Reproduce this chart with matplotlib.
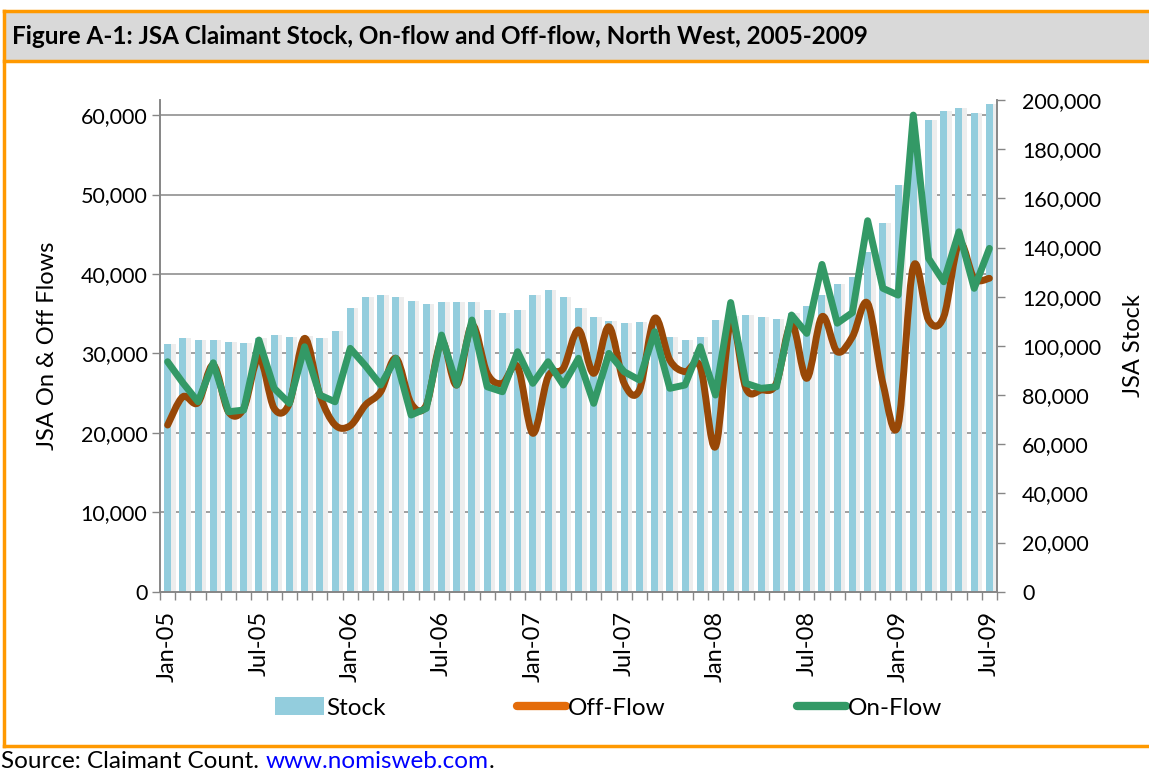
import numpy as np
import pandas as pd
import matplotlib
matplotlib.use("Agg")
import matplotlib.pyplot as plt
from matplotlib.path import Path
from matplotlib.patches import PathPatch, Patch, Rectangle
from matplotlib.lines import Line2D
from matplotlib.transforms import blended_transform_factory
from matplotlib.ticker import StrMethodFormatter

plt.rcParams['font.family'] = ['Lato', 'DejaVu Sans']

months = pd.date_range('2005-01-01', periods=55, freq='MS')
tick_labels = ['Jan-05', 'Jul-05', 'Jan-06', 'Jul-06', 'Jan-07',
               'Jul-07', 'Jan-08', 'Jul-08', 'Jan-09', 'Jul-09']

stock = [100800, 103100, 102400, 102400, 101600, 101000, 103000, 104400, 103700, 104000,
         103100, 106000, 115400, 119800, 120600, 119800, 118400, 116900, 117900, 117900,
         117900, 114700, 113400, 114700, 120600, 122700, 119800, 115400, 111800, 110200,
         109100, 109800, 108500, 103700, 102400, 103700, 110500, 112000, 112500, 111900,
         111100, 113500, 116200, 120500, 125000, 128100, 138000, 150000, 165400, 180000,
         191800, 195400, 196800, 194700, 198400]

off_flow = [20980, 24540, 23800, 28530, 22650, 23080, 29500, 23080, 23710, 31890,
            24760, 21000, 20900, 23500, 25170, 29380, 23710, 23500, 31500, 26020,
            33570, 27490, 26230, 28320, 19940, 27060, 28120, 32940, 27490, 33350,
            26230, 25390, 34410, 29160, 27690, 28320, 18250, 34000, 25600, 25390,
            26230, 33780, 26860, 34620, 30210, 32100, 36300, 26230, 20980, 40910,
            34200, 34620, 43850, 39450, 39450]

on_flow = [28950, 26300, 23910, 28820, 22650, 22870, 31680, 25600, 23710, 30840,
           24760, 23910, 30630, 28450, 26020, 29380, 22240, 23080, 32310, 26020,
           34200, 25800, 25170, 30210, 26230, 28950, 26020, 29380, 23710, 30000,
           27690, 26650, 32730, 25600, 26020, 30840, 24760, 36400, 26230, 25600,
           25800, 34830, 32520, 41200, 33800, 35140, 46700, 38200, 37340, 60000,
           41960, 39020, 45310, 38190, 43220]

BAR_COLOR = '#93CDDD'
OFF_COLOR = '#984807'
OFF_LEGEND = '#E46C0A'
ON_COLOR = '#339966'
GRID = '#868686'
ORANGE = '#FF9900'


def smooth_path(xs, ys):
    # Excel-style smoothed line as cubic bezier segments through the data points
    pts = np.column_stack([xs, ys]).astype(float)
    padded = np.vstack([pts[:1], pts, pts[-1:]])
    verts = [pts[0]]
    codes = [Path.MOVETO]
    for i in range(len(pts) - 1):
        p0, p1, p2, p3 = padded[i], padded[i + 1], padded[i + 2], padded[i + 3]
        verts += [p1 + (p2 - p0) / 6, p2 - (p3 - p1) / 6, p2]
        codes += [Path.CURVE4] * 3
    return Path(verts, codes)


fig = plt.figure(figsize=(11.49, 7.76), dpi=100)
ax = fig.add_axes([160 / 1149, 1 - 591.7 / 776, 837 / 1149, 491.7 / 776])
ax2 = ax.twinx()
ax.set_zorder(ax2.get_zorder() + 1)
ax.patch.set_visible(False)

x = np.arange(len(months))

# stock bars with a soft shadow
ax2.bar(x + 0.22, stock, width=0.62, color='#EDEDED', zorder=1)
ax2.bar(x, stock, width=0.46, color=BAR_COLOR, zorder=2)
ax2.set_ylim(0, 200000)
ax2.set_yticks(np.arange(0, 200001, 20000))
ax2.yaxis.set_major_formatter(StrMethodFormatter('{x:,.0f}'))
ax2.set_ylabel('JSA Stock', fontsize=17, labelpad=16)

ax.set_ylim(0, 61900)
ax.set_yticks(np.arange(0, 60001, 10000))
ax.yaxis.set_major_formatter(StrMethodFormatter('{x:,.0f}'))
ax.set_ylabel('JSA On & Off Flows', fontsize=17, labelpad=16)

# gridlines behind the bars, placed on the left-axis scale
grid_tr = blended_transform_factory(ax2.transAxes, ax.transData)
for v in np.arange(10000, 60001, 10000):
    ax2.plot([0, 1], [v, v], transform=grid_tr, color=GRID, lw=1.1, zorder=0)

ax.add_patch(PathPatch(smooth_path(x, off_flow), fill=False, edgecolor=OFF_COLOR,
                       lw=5, capstyle='round', joinstyle='round', zorder=3))
ax.plot(x, on_flow, color=ON_COLOR, lw=5, solid_joinstyle='round',
        solid_capstyle='round', zorder=4)

ax.set_xlim(-0.5, 54.5)
ax.set_xticks(x[::6])
ax.set_xticklabels(tick_labels, rotation=90, fontsize=17)
ax.set_xticks(np.arange(-0.5, 55, 1), minor=True)
ax.tick_params(axis='x', which='major', length=0, pad=14)
ax.tick_params(axis='x', which='minor', length=6, color=GRID, width=1)
ax.tick_params(axis='y', labelsize=15.5, length=6, color=GRID, width=1, pad=3)
ax2.tick_params(axis='y', labelsize=15.5, length=6, color=GRID, width=1, pad=12)

for a in (ax, ax2):
    a.spines['top'].set_visible(False)
    for s in ('left', 'right', 'bottom'):
        a.spines[s].set_color(GRID)
        a.spines[s].set_linewidth(1.2)

handles = [Patch(facecolor=BAR_COLOR, edgecolor='none'),
           Line2D([], [], color=OFF_LEGEND, lw=6, solid_capstyle='round'),
           Line2D([], [], color=ON_COLOR, lw=6, solid_capstyle='round')]
fig.legend(handles, ['Stock', 'Off-Flow', 'On-Flow'], ncol=3, loc='center',
           bbox_to_anchor=(0.53, 1 - 708 / 776), frameon=False, fontsize=17.5,
           handlelength=2.0, handletextpad=0.1, columnspacing=5.4)

# frame and title band
fig.add_artist(Rectangle((4 / 1149, 1 - 61 / 776), 1, 50 / 776,
                         transform=fig.transFigure, facecolor='#D9D9D9',
                         edgecolor='none', zorder=0))
for xs, ys in [((4, 1149), (11, 11)), ((4, 1149), (61, 61)),
               ((4, 1149), (746, 746)), ((4, 4), (11, 746))]:
    fig.add_artist(Line2D([v / 1149 for v in xs], [1 - v / 776 for v in ys],
                          transform=fig.transFigure, color=ORANGE, lw=2.5))

fig.text(12 / 1149, 1 - 37 / 776,
         'Figure A-1: JSA Claimant Stock, On-flow and Off-flow, North West, 2005-2009',
         fontsize=17.5, fontweight='bold', va='center', ha='left')

src = fig.text(1 / 1149, 1 - 762 / 776, 'Source: Claimant Count. ',
               fontsize=17.5, va='center', ha='left')
link = ax.annotate('www.nomisweb.com', xy=(1, 0), xycoords=src, va='bottom',
                   ha='left', fontsize=17.5, color='#0000FF', annotation_clip=False)
ax.annotate('.', xy=(1, 0), xycoords=link, va='bottom', ha='left', fontsize=17.5,
            annotation_clip=False)

fig.savefig('out.png', dpi=100)
